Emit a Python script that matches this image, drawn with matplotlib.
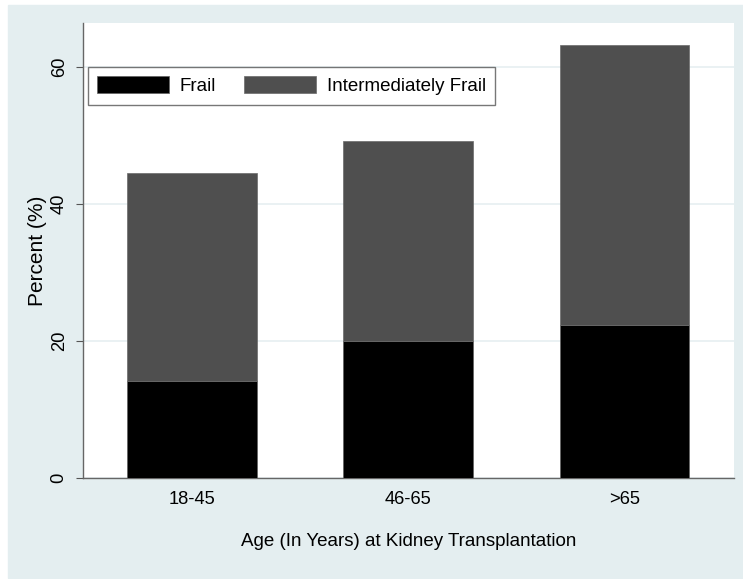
import matplotlib
matplotlib.use("Agg")
import matplotlib.pyplot as plt
import numpy as np

# values
age_groups = ["18-45", "46-65", ">65"]
frail = [14.2, 20.0, 22.3]
intermediately_frail = [30.3, 29.2, 40.9]
y_ticks = [0, 20, 40, 60]

plt.rcParams["font.family"] = ["Liberation Sans", "DejaVu Sans"]

panel_bg = "#E4EEF0"
fig = plt.figure(figsize=(7.43, 5.79), dpi=100, facecolor="white")
# light panel behind the plot (Stata-ish look)
fig.patches.append(plt.Rectangle((8 / 743, 1 - 578 / 579), 735 / 743, 573 / 579,
                                 transform=fig.transFigure, color=panel_bg, zorder=-10))

ax = fig.add_axes([83 / 743, 1 - 478 / 579, 651 / 743, 455 / 579])
ax.set_facecolor("white")

x = np.arange(len(age_groups))
ax.bar(x, frail, width=0.6, color="black", edgecolor="#606060", linewidth=0.5,
       label="Frail", zorder=3)
ax.bar(x, intermediately_frail, width=0.6, bottom=frail, color="#4F4F4F",
       edgecolor="#6A6A6A", linewidth=0.5, label="Intermediately Frail", zorder=3)

ax.set_xlim(-0.505, 2.507)
ax.set_ylim(0, 66.4)
ax.set_yticks(y_ticks)
ax.set_yticklabels([str(t) for t in y_ticks], rotation=90, va="center", fontsize=13.2)
ax.set_xticks(x)
ax.set_xticklabels(age_groups, fontsize=13.2)
ax.tick_params(axis="x", length=0, pad=9)
ax.tick_params(axis="y", length=5, color="#555555", pad=6)
ax.yaxis.grid(True, color="#E6EFF1", linewidth=1.2, zorder=0)

for s in ["top", "right"]:
    ax.spines[s].set_visible(False)
for s in ["left", "bottom"]:
    ax.spines[s].set_color("#666666")
    ax.spines[s].set_linewidth(1.0)

ax.set_ylabel("Percent (%)", fontsize=15, va="center")
# fixed spot, just left of the tick labels
ax.yaxis.set_label_coords((38 - 83) / 651, 0.5)
ax.set_xlabel("Age (In Years) at Kidney Transplantation", fontsize=13.5, labelpad=18)

leg = ax.legend(loc="upper left", bbox_to_anchor=(5 / 651, 1 - 44 / 455), ncol=2,
                frameon=True, fancybox=False, fontsize=13.5, handlelength=3.8,
                handleheight=1.0, handletextpad=0.6, columnspacing=1.5,
                borderpad=0.5, borderaxespad=0)
leg.get_frame().set_edgecolor("#555555")
leg.get_frame().set_linewidth(1.0)

fig.savefig("out.png", dpi=100, facecolor=fig.get_facecolor())
